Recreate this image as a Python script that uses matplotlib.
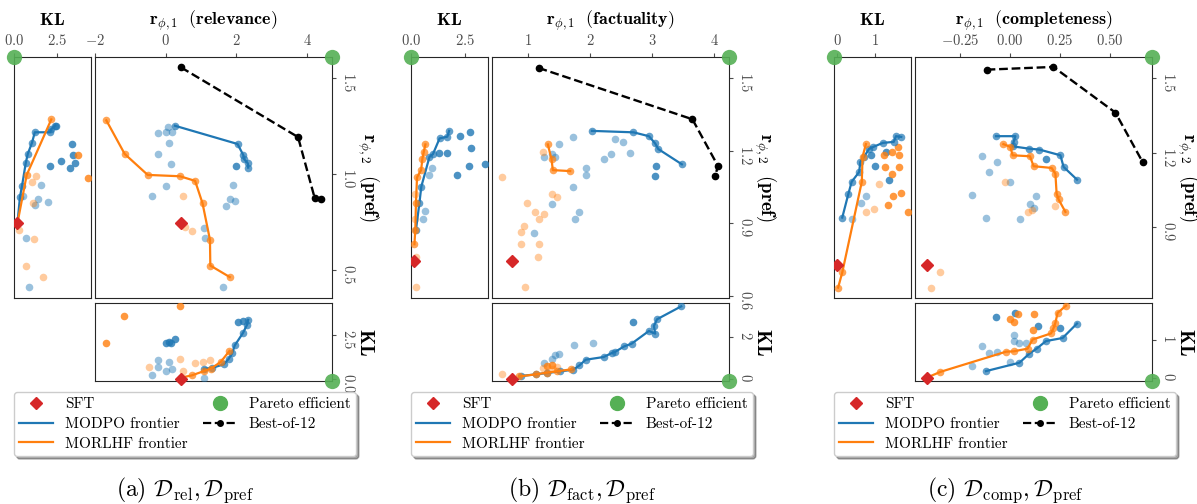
import numpy as np
import matplotlib.pyplot as plt
from matplotlib.lines import Line2D

plt.rcParams['font.family'] = 'serif'
plt.rcParams['font.serif'] = ['cmr10']
plt.rcParams['mathtext.fontset'] = 'cm'
plt.rcParams['axes.formatter.use_mathtext'] = True

W, H = 1197, 504
BLUE = '#1f77b4'
ORANGE = '#ff7f0e'

# ---------------- (a) relevance / pref ----------------
# main panel: (r1, r2)
rel_best = [(0.43, 1.555), (3.74, 1.192), (4.21, 0.875), (4.38, 0.868)]
rel_modpo_front = [(0.26, 1.251), (2.03, 1.156), (2.19, 1.099), (2.22, 1.076), (2.32, 1.055), (2.33, 1.033)]
rel_modpo_dark = [(2.0, 1.043)]
rel_modpo_light = [(-0.23, 1.215), (0.05, 1.243), (0.0, 1.217), (0.19, 1.217), (0.09, 1.163), (-0.22, 1.104),
                   (0.16, 1.052), (0.0, 0.938), (-0.39, 0.886), (1.91, 0.943), (1.83, 0.868), (1.95, 0.860),
                   (1.70, 0.835), (1.08, 0.718), (1.11, 0.666), (1.62, 0.411)]
rel_morlhf_front = [(-1.68, 1.279), (-1.16, 1.104), (-0.51, 0.995), (0.40, 0.988), (0.83, 0.964), (1.04, 0.847),
                    (1.25, 0.657), (1.26, 0.523), (1.81, 0.463)]
rel_morlhf_dark = []
rel_morlhf_light = [(0.48, 0.886), (0.54, 0.723), (0.73, 0.702)]
rel_sft = (0.42, 0.747)
# left panel: (KL, r2)
rel_kl_modpo_front = [(0.2, 0.744), (0.35, 0.882), (0.47, 0.939), (0.68, 1.055), (0.80, 1.104), (1.05, 1.163),
                      (1.21, 1.217), (2.11, 1.217), (2.17, 1.234), (2.40, 1.251)]
rel_kl_modpo_dark = [(2.44, 1.251), (3.38, 1.156), (3.42, 1.101), (3.52, 1.055), (3.24, 1.033), (2.73, 1.069),
                     (2.07, 1.043)]
rel_kl_modpo_light = [(1.58, 0.941), (1.37, 0.868), (1.21, 0.839), (1.95, 0.856), (0.70, 0.667), (0.90, 0.411),
                      (0.55, 0.886)]
rel_kl_morlhf_front = [(0.2, 0.744), (0.74, 0.995), (2.17, 1.284)]
rel_kl_morlhf_dark = [(3.71, 1.101), (4.28, 0.977)]
rel_kl_morlhf_light = [(1.29, 0.990), (1.04, 0.960), (1.09, 0.847), (1.19, 0.660), (0.68, 0.523), (1.68, 0.463),
                       (0.29, 0.709)]
rel_kl_sft = (0.2, 0.744)
# bottom panel: (r1, KL)
rel_b_modpo_front = [(1.08, 0.58), (1.30, 0.62), (1.64, 0.83), (1.78, 1.15), (1.88, 1.48), (1.95, 1.92),
                     (2.18, 2.63), (2.30, 3.12), (2.33, 3.40)]
rel_b_modpo_dark = [(2.05, 3.25), (2.19, 3.33), (0.0, 2.08), (0.09, 2.12), (0.26, 2.31), (0.14, 2.06)]
rel_b_modpo_light = [(1.08, 0.06), (-0.23, 1.06), (-0.21, 0.67), (0.09, 0.96), (0.17, 0.58), (0.0, 0.42),
                     (-0.39, 0.23)]
rel_b_morlhf_front = [(0.42, 0.06), (0.73, 0.19), (1.08, 0.44), (1.27, 0.58), (1.55, 0.96), (1.80, 1.60)]
rel_b_morlhf_dark = [(0.40, 4.17), (-1.17, 3.60), (-1.69, 2.08)]
rel_b_morlhf_light = [(-0.47, 0.67), (0.39, 1.15), (0.83, 0.92), (1.04, 0.98), (1.24, 1.06), (0.49, 0.42)]
rel_b_sft = (0.42, 0.0)

# ---------------- (b) factuality / pref ----------------
fact_best = [(1.17, 1.542), (3.65, 1.33), (4.06, 1.138), (4.02, 1.096)]
fact_modpo_front = [(2.03, 1.282), (2.70, 1.276), (2.95, 1.260), (3.05, 1.23), (3.10, 1.207), (3.48, 1.144)]
fact_modpo_dark = [(3.06, 1.138), (3.04, 1.097)]
fact_modpo_light = [(1.73, 1.255), (1.50, 1.227), (1.39, 1.186), (1.26, 1.175), (1.44, 1.175), (2.40, 1.248),
                    (2.53, 1.237), (2.33, 1.186), (2.23, 1.164), (2.64, 1.192), (1.93, 1.130), (1.93, 1.100),
                    (1.72, 1.052), (1.38, 0.980), (1.83, 0.949), (1.76, 0.917), (1.09, 0.862)]
fact_morlhf_front = [(1.32, 1.226), (1.38, 1.164), (1.40, 1.120), (1.68, 1.116)]
fact_morlhf_dark = []
fact_morlhf_light = [(0.58, 1.090), (1.25, 1.194), (1.39, 1.021), (1.47, 1.008), (0.98, 0.983), (1.12, 0.949),
                     (1.26, 0.939), (1.18, 0.918), (0.93, 0.890), (0.89, 0.866), (0.89, 0.814), (1.17, 0.814),
                     (1.16, 0.763), (0.95, 0.637)]
fact_sft = (0.75, 0.745)
fact_kl_modpo_front = [(0.23, 0.873), (0.39, 0.983), (0.48, 1.052), (0.86, 1.175), (1.02, 1.186), (1.33, 1.251),
                       (1.69, 1.258), (1.77, 1.282)]
fact_kl_modpo_dark = [(2.28, 1.260), (2.75, 1.278), (2.81, 1.21), (2.70, 1.138), (3.44, 1.144), (2.16, 1.100),
                      (1.69, 1.19), (1.30, 1.19)]
fact_kl_modpo_light = [(0.64, 0.951), (0.55, 0.918), (0.86, 1.10), (0.98, 1.130)]
fact_kl_morlhf_front = [(0.16, 0.814), (0.20, 0.873), (0.23, 0.983), (0.28, 1.090), (0.47, 1.120), (0.53, 1.167),
                        (0.59, 1.194), (0.67, 1.226)]
fact_kl_morlhf_dark = []
fact_kl_morlhf_light = [(0.23, 0.637), (0.25, 0.763), (0.17, 0.92), (0.19, 1.02)]
fact_kl_sft = (0.16, 0.745)
fact_b_modpo_front = [(0.89, 0.13), (1.13, 0.21), (1.30, 0.27), (1.51, 0.35), (1.73, 0.43), (1.83, 0.64),
                      (1.93, 0.91), (2.22, 1.04), (2.35, 1.23), (2.40, 1.28), (2.55, 1.55), (2.67, 1.68),
                      (2.95, 2.29), (3.05, 2.16), (3.03, 2.53), (3.08, 2.85), (3.47, 3.47)]
fact_b_modpo_dark = [(2.70, 2.72)]
fact_b_modpo_light = [(1.74, 1.63), (2.04, 1.71), (1.26, 0.77), (1.38, 0.96), (1.50, 1.2), (1.43, 1.12)]
fact_b_morlhf_front = [(0.86, 0.11), (1.13, 0.21), (1.30, 0.29), (1.46, 0.35), (1.70, 0.45)]
fact_b_morlhf_dark = [(1.30, 0.6), (1.38, 0.64)]
fact_b_morlhf_light = [(0.58, 0.21), (1.24, 0.53), (1.40, 0.48), (1.46, 0.55)]
fact_b_sft = (0.75, 0.0)

# ---------------- (c) completeness / pref ----------------
comp_best = [(-0.117, 1.534), (0.217, 1.545), (0.527, 1.361), (0.663, 1.162)]
comp_modpo_front = [(-0.07, 1.266), (0.027, 1.266), (0.018, 1.243), (0.013, 1.225), (0.093, 1.216),
                    (0.147, 1.212), (0.252, 1.189), (0.268, 1.142), (0.335, 1.091)]
comp_modpo_dark = [(0.18, 1.176)]
comp_modpo_light = [(-0.142, 1.185), (-0.067, 1.160), (-0.103, 1.122), (-0.19, 1.028), (-0.12, 0.937),
                    (0.05, 0.932), (0.0, 1.082), (0.13, 1.026), (0.10, 0.992), (0.118, 0.975)]
comp_morlhf_front = [(-0.033, 1.234), (0.002, 1.223), (0.013, 1.189), (0.10, 1.185), (0.118, 1.145),
                     (0.208, 1.138), (0.227, 1.115), (0.233, 1.035), (0.243, 1.011), (0.277, 0.961)]
comp_morlhf_dark = []
comp_morlhf_light = [(-0.023, 1.082), (0.088, 0.961), (0.11, 0.97), (0.227, 0.984), (-0.348, 0.717),
                     (-0.395, 0.656)]
comp_sft = (-0.415, 0.746)
comp_kl_modpo_front = [(0.13, 0.938), (0.29, 1.032), (0.38, 1.082), (0.58, 1.122), (0.61, 1.162), (0.71, 1.183),
                       (0.85, 1.216), (0.96, 1.223), (1.21, 1.239), (1.50, 1.243), (1.56, 1.266), (1.70, 1.263)]
comp_kl_modpo_dark = [(1.38, 1.089), (1.0, 1.146), (1.29, 1.203), (0.9, 1.19)]
comp_kl_modpo_light = [(0.76, 1.025), (0.63, 0.995), (0.38, 0.932)]
comp_kl_morlhf_front = [(0.02, 0.656), (0.13, 0.717), (0.65, 1.082), (0.67, 1.183), (0.76, 1.234)]
comp_kl_morlhf_dark = [(1.25, 1.189), (1.46, 1.203), (1.65, 1.189), (1.27, 1.142), (1.65, 1.142), (1.46, 1.115),
                       (1.70, 1.038), (1.47, 1.024), (1.34, 0.988), (1.88, 0.961), (1.61, 1.223)]
comp_kl_morlhf_light = [(1.12, 1.075), (0.98, 0.972), (0.76, 0.961)]
comp_kl_sft = (0.0, 0.746)
comp_b_modpo_front = [(-0.12, 0.17), (0.047, 0.39), (0.097, 0.63), (0.133, 0.76), (0.18, 0.96), (0.263, 1.04),
                      (0.335, 1.42)]
comp_b_modpo_dark = [(-0.07, 1.58), (0.027, 1.70), (0.142, 1.35), (0.252, 1.31)]
comp_b_modpo_light = [(0.018, 1.13), (0.018, 0.96), (0.047, 0.92), (0.08, 0.9), (-0.142, 0.83), (-0.103, 0.65),
                      (-0.067, 0.66), (0.0, 0.41), (-0.19, 0.30)]
comp_b_morlhf_front = [(-0.415, 0.0), (-0.348, 0.15), (-0.02, 0.68), (0.018, 0.69), (0.088, 0.76), (0.113, 1.0),
                       (0.205, 1.16), (0.217, 1.29), (0.227, 1.44), (0.238, 1.70), (0.28, 1.89)]
comp_b_morlhf_dark = [(0.0, 1.55), (0.018, 1.45), (0.038, 1.66), (0.118, 1.66), (0.113, 1.25)]
comp_b_morlhf_light = []
comp_b_sft = (-0.415, 0.0)

reward_names = ['relevance', 'factuality', 'completeness']
captions = [r'(a) $\mathcal{D}_{\mathrm{rel}}, \mathcal{D}_{\mathrm{pref}}$',
            r'(b) $\mathcal{D}_{\mathrm{fact}}, \mathcal{D}_{\mathrm{pref}}$',
            r'(c) $\mathcal{D}_{\mathrm{comp}}, \mathcal{D}_{\mathrm{pref}}$']


def box(x0, y0, x1, y1):
    return [x0 / W, 1 - y1 / H, (x1 - x0) / W, (y1 - y0) / H]


def xy(pts):
    a = np.array(pts, dtype=float)
    return a[:, 0], a[:, 1]


def dots(ax, pts, color, alpha):
    if len(pts):
        x, y = xy(pts)
        ax.scatter(x, y, s=30, color=color, alpha=alpha, lw=0, zorder=3)


def front(ax, pts, color):
    x, y = xy(pts)
    ax.plot(x, y, color=color, lw=1.6, zorder=4)
    ax.scatter(x, y, s=30, color=color, alpha=0.7, lw=0, zorder=4)


def style(ax):
    ax.tick_params(labelsize=10.5, labelcolor='0.3', color='0.3', length=3)
    for s in ax.spines.values():
        s.set_color('0.15')


def pareto(ax, x, y):
    ax.plot(x, y, 'o', transform=ax.transAxes, clip_on=False, ms=11, color='#55b055',
            alpha=0.9, zorder=10, mec='none')


def draw(i, groups, x0, lims):
    main_g, kl_g, b_g = groups
    (kx0, kx1), (r1a, r1b), (r2a, r2b), (bka, bkb) = lims['lims']

    # main panel
    ax = fig.add_axes(box(x0 + 81, 57, x0 + 318, 298))
    style(ax)
    bx, by = xy(main_g[0])
    ax.plot(bx, by, 'k--', lw=1.7, marker='o', ms=4.5, zorder=5)
    front(ax, main_g[1], BLUE)
    dots(ax, main_g[2], BLUE, 0.8)
    dots(ax, main_g[3], BLUE, 0.45)
    front(ax, main_g[4], ORANGE)
    dots(ax, main_g[5], ORANGE, 0.8)
    dots(ax, main_g[6], ORANGE, 0.4)
    ax.plot(*main_g[7], 'D', color='#d62728', ms=6.5, zorder=6)
    pareto(ax, 1, 1)
    ax.set_xlim(r1a, r1b)
    ax.set_ylim(r2a, r2b)
    ax.set_xticks(lims['r1ticks'])
    ax.set_yticks(lims['r2ticks'])
    ax.xaxis.tick_top()
    ax.yaxis.tick_right()
    ax.tick_params(axis='y', labelrotation=270, pad=3.5)
    ax.xaxis.set_label_position('top')
    ax.yaxis.set_label_position('right')
    ax.set_xlabel(r'$\mathbf{r}_{\phi,1}\ \ \mathbf{(%s)}$' % reward_names[i], fontsize=13, labelpad=6)
    ax.set_ylabel(r'$\mathbf{r}_{\phi,2}\ \ \mathbf{(pref)}$', fontsize=13.5, rotation=270,
                  va='bottom', labelpad=-1)

    # left KL panel
    axl = fig.add_axes(box(x0, 57, x0 + 77, 298))
    style(axl)
    front(axl, kl_g[0], BLUE)
    dots(axl, kl_g[1], BLUE, 0.8)
    dots(axl, kl_g[2], BLUE, 0.45)
    front(axl, kl_g[3], ORANGE)
    dots(axl, kl_g[4], ORANGE, 0.8)
    dots(axl, kl_g[5], ORANGE, 0.4)
    axl.plot(*kl_g[6], 'D', color='#d62728', ms=6.5, zorder=6)
    pareto(axl, 0, 1)
    axl.set_xlim(kx0, kx1)
    axl.set_ylim(r2a, r2b)
    axl.set_xticks(lims['klticks'])
    axl.set_yticks([])
    axl.xaxis.tick_top()
    axl.xaxis.set_label_position('top')
    axl.set_xlabel(r'$\mathbf{KL}$', fontsize=13, labelpad=6)

    # bottom KL panel
    axb = fig.add_axes(box(x0 + 81, 303, x0 + 318, 381))
    style(axb)
    front(axb, b_g[0], BLUE)
    dots(axb, b_g[1], BLUE, 0.8)
    dots(axb, b_g[2], BLUE, 0.45)
    front(axb, b_g[3], ORANGE)
    dots(axb, b_g[4], ORANGE, 0.8)
    dots(axb, b_g[5], ORANGE, 0.4)
    axb.plot(*b_g[6], 'D', color='#d62728', ms=6.5, zorder=6, clip_on=False)
    pareto(axb, 1, 0)
    axb.set_xlim(r1a, r1b)
    axb.set_ylim(bka, bkb)
    axb.set_xticks([])
    axb.set_yticks(lims['klticks_b'])
    axb.yaxis.tick_right()
    axb.tick_params(axis='y', labelrotation=270, pad=3.5)
    axb.yaxis.set_label_position('right')
    axb.set_ylabel(r'$\mathbf{KL}$', fontsize=14, rotation=270, va='bottom', labelpad=0)

    # legend + caption
    cx = x0 + 171
    handles = [Line2D([], [], ls='none', marker='D', color='#d62728', ms=6),
               Line2D([], [], color=BLUE, lw=1.6),
               Line2D([], [], color=ORANGE, lw=1.6),
               Line2D([], [], ls='none', marker='o', color='#55b055', ms=10),
               Line2D([], [], color='k', ls='--', marker='o', ms=4, lw=1.6)]
    labels = ['SFT', 'MODPO frontier', 'MORLHF frontier', 'Pareto efficient', 'Best-of-12']
    fig.legend(handles, labels, ncol=2, loc='upper center', bbox_to_anchor=(cx / W, 1 - 389 / H),
               fontsize=11, fancybox=True, shadow=True, edgecolor='0.8', framealpha=1,
               columnspacing=1.0, handlelength=2.2, handletextpad=0.8, labelspacing=0.4,
               borderpad=0.35, borderaxespad=0.2)
    fig.text(cx / W, 1 - 490 / H, captions[i], ha='center', va='center', fontsize=17)


fig = plt.figure(figsize=(W / 100, H / 100), dpi=100)

panel_lims = [
    {'lims': ((0, 4.48), (-2, 4.7), (0.354, 1.609), (-0.13, 4.37)),
     'r1ticks': [-2, 0, 2, 4], 'r2ticks': [0.5, 1.0, 1.5], 'klticks': [0.0, 2.5], 'klticks_b': [0.0, 2.5]},
    {'lims': ((0, 3.58), (0.42, 4.24), (0.592, 1.587), (-0.11, 3.63)),
     'r1ticks': [1, 2, 3, 4], 'r2ticks': [0.6, 0.9, 1.2, 1.5], 'klticks': [0.0, 2.5], 'klticks_b': [0, 2]},
    {'lims': ((-0.09, 1.96), (-0.475, 0.71), (0.614, 1.585), (-0.09, 1.96)),
     'r1ticks': [-0.25, 0, 0.25, 0.5], 'r2ticks': [0.9, 1.2, 1.5], 'klticks': [0, 1], 'klticks_b': [0, 1]},
]

all_groups = [
    ([rel_best, rel_modpo_front, rel_modpo_dark, rel_modpo_light, rel_morlhf_front, rel_morlhf_dark,
      rel_morlhf_light, rel_sft],
     [rel_kl_modpo_front, rel_kl_modpo_dark, rel_kl_modpo_light, rel_kl_morlhf_front, rel_kl_morlhf_dark,
      rel_kl_morlhf_light, rel_kl_sft],
     [rel_b_modpo_front, rel_b_modpo_dark, rel_b_modpo_light, rel_b_morlhf_front, rel_b_morlhf_dark,
      rel_b_morlhf_light, rel_b_sft]),
    ([fact_best, fact_modpo_front, fact_modpo_dark, fact_modpo_light, fact_morlhf_front, fact_morlhf_dark,
      fact_morlhf_light, fact_sft],
     [fact_kl_modpo_front, fact_kl_modpo_dark, fact_kl_modpo_light, fact_kl_morlhf_front, fact_kl_morlhf_dark,
      fact_kl_morlhf_light, fact_kl_sft],
     [fact_b_modpo_front, fact_b_modpo_dark, fact_b_modpo_light, fact_b_morlhf_front, fact_b_morlhf_dark,
      fact_b_morlhf_light, fact_b_sft]),
    ([comp_best, comp_modpo_front, comp_modpo_dark, comp_modpo_light, comp_morlhf_front, comp_morlhf_dark,
      comp_morlhf_light, comp_sft],
     [comp_kl_modpo_front, comp_kl_modpo_dark, comp_kl_modpo_light, comp_kl_morlhf_front, comp_kl_morlhf_dark,
      comp_kl_morlhf_light, comp_kl_sft],
     [comp_b_modpo_front, comp_b_modpo_dark, comp_b_modpo_light, comp_b_morlhf_front, comp_b_morlhf_dark,
      comp_b_morlhf_light, comp_b_sft]),
]

for i, x0 in enumerate([14, 411, 834]):
    draw(i, all_groups[i], x0, panel_lims[i])

fig.savefig('out.png', dpi=100)
